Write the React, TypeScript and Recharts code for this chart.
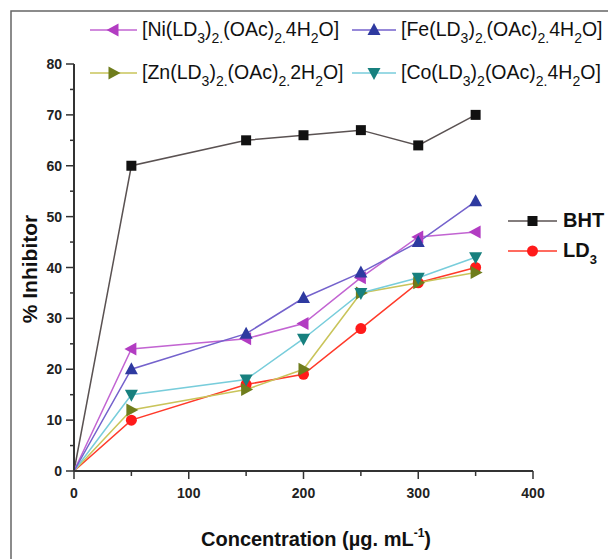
import React from 'react';
import { LineChart, Line, XAxis, YAxis } from 'recharts';

const concentrations = [0, 50, 150, 200, 250, 300, 350];
const bht = [0, 60, 65, 66, 67, 64, 70];
const ld3 = [0, 10, 17, 19, 28, 37, 40];
const niComplex = [0, 24, 26, 29, 38, 46, 47];
const feComplex = [0, 20, 27, 34, 39, 45, 53];
const znComplex = [0, 12, 16, 20, 35, 37, 39];
const coComplex = [0, 15, 18, 26, 35, 38, 42];

const xTicks = [0, 50, 100, 150, 200, 250, 300, 350, 400];
const yTicks = [0, 5, 10, 15, 20, 25, 30, 35, 40, 45, 50, 55, 60, 65, 70, 75, 80];

// legend label segments: [text, isSubscript]
const niLabel: [string, boolean][] = [['[Ni(LD', false], ['3', true], [')', false], ['2.', true], ['(OAc)', false], ['2.', true], ['4H', false], ['2', true], ['O]', false]];
const feLabel: [string, boolean][] = [['[Fe(LD', false], ['3', true], [')', false], ['2.', true], ['(OAc)', false], ['2.', true], ['4H', false], ['2', true], ['O]', false]];
const znLabel: [string, boolean][] = [['[Zn(LD', false], ['3', true], [')', false], ['2.', true], ['(OAc)', false], ['2.', true], ['2H', false], ['2', true], ['O]', false]];
const coLabel: [string, boolean][] = [['[Co(LD', false], ['3', true], [')', false], ['2', true], ['(OAc)', false], ['2.', true], ['4H', false], ['2', true], ['O]', false]];
const bhtLabel: [string, boolean][] = [['BHT', false]];
const ld3Label: [string, boolean][] = [['LD', false], ['3', true]];

const data = concentrations.map((c, i) => ({
  conc: c,
  bht: bht[i],
  ld3: ld3[i],
  ni: niComplex[i],
  fe: feComplex[i],
  zn: znComplex[i],
  co: coComplex[i],
}));

const FONT = 'Liberation Sans, Arial, Helvetica, sans-serif';

type ShapeKind = 'square' | 'circle' | 'up' | 'down' | 'left' | 'right';

function markerPath(kind: ShapeKind, cx: number, cy: number): string {
  switch (kind) {
    case 'square':
      return `M${cx - 5},${cy - 5}h10v10h-10Z`;
    case 'up':
      return `M${cx},${cy - 7}L${cx + 6.5},${cy + 5}L${cx - 6.5},${cy + 5}Z`;
    case 'down':
      return `M${cx},${cy + 7}L${cx + 6.5},${cy - 5}L${cx - 6.5},${cy - 5}Z`;
    case 'left':
      return `M${cx - 7},${cy}L${cx + 5},${cy - 6.5}L${cx + 5},${cy + 6.5}Z`;
    case 'right':
      return `M${cx + 7},${cy}L${cx - 5},${cy - 6.5}L${cx - 5},${cy + 6.5}Z`;
    default:
      return '';
  }
}

function Marker({ kind, cx, cy, color }: { kind: ShapeKind; cx: number; cy: number; color: string }) {
  if (kind === 'circle') return <circle cx={cx} cy={cy} r={5.5} fill={color} />;
  return <path d={markerPath(kind, cx, cy)} fill={color} />;
}

function makeDot(kind: ShapeKind, color: string) {
  return (p: any) => {
    const key = `${kind}-${p.index}`;
    if (p.payload && p.payload.conc === 0) return <g key={key} />;
    return (
      <g key={key}>
        <Marker kind={kind} cx={p.cx} cy={p.cy} color={color} />
      </g>
    );
  };
}

const XTick = (p: any) => {
  const v = p.payload.value;
  const major = v % 100 === 0;
  return (
    <g>
      <line x1={p.x} x2={p.x} y1={p.y} y2={p.y + (major ? 8 : 5)} stroke="#333" strokeWidth={1.5} />
      {major && (
        <text x={p.x} y={p.y + 27} textAnchor="middle" fontFamily={FONT} fontWeight="bold" fontSize={14} fill="#222">
          {v}
        </text>
      )}
    </g>
  );
};

const YTick = (p: any) => {
  const v = p.payload.value;
  const major = v % 10 === 0;
  return (
    <g>
      <line x1={p.x - (major ? 8 : 4)} x2={p.x} y1={p.y} y2={p.y} stroke="#333" strokeWidth={1.5} />
      {major && (
        <text x={p.x - 12} y={p.y + 5} textAnchor="end" fontFamily={FONT} fontWeight="bold" fontSize={14} fill="#222">
          {v}
        </text>
      )}
    </g>
  );
};

function RichText({ x, y, parts, size, subSize, weight }: { x: number; y: number; parts: [string, boolean][]; size: number; subSize: number; weight?: string }) {
  let shifted = false;
  const shift = 7;
  return (
    <text x={x} y={y} fontFamily={FONT} fontSize={size} fontWeight={weight || 'normal'} fill="#111">
      {parts.map(([t, sub], i) => {
        let dy = 0;
        if (sub && !shifted) { dy = shift; shifted = true; }
        else if (!sub && shifted) { dy = -shift; shifted = false; }
        return (
          <tspan key={i} dy={dy} fontSize={sub ? subSize : size}>
            {t}
          </tspan>
        );
      })}
    </text>
  );
}

function LegendItem({ x1, x2, y, kind, lineColor, markerColor, parts, textX, size, subSize, weight }: any) {
  return (
    <g>
      <line x1={x1} x2={x2} y1={y} y2={y} stroke={lineColor} strokeWidth={1.5} />
      <Marker kind={kind} cx={(x1 + x2) / 2} cy={y} color={markerColor} />
      <RichText x={textX} y={y + 6} parts={parts} size={size} subSize={subSize} weight={weight} />
    </g>
  );
}

const series = [
  { key: 'bht', line: '#5a5252', marker: '#111111', kind: 'square' as ShapeKind },
  { key: 'ld3', line: '#ff3a2a', marker: '#ff1a1a', kind: 'circle' as ShapeKind },
  { key: 'zn', line: '#c9c45a', marker: '#6f7d1c', kind: 'right' as ShapeKind },
  { key: 'co', line: '#78cddb', marker: '#17807e', kind: 'down' as ShapeKind },
  { key: 'ni', line: '#c264d2', marker: '#b23cc2', kind: 'left' as ShapeKind },
  { key: 'fe', line: '#7462cc', marker: '#2e3aa0', kind: 'up' as ShapeKind },
];

export default function App() {
  const col = (k: string) => series.find((s) => s.key === k)!;
  return (
    <div style={{ position: 'absolute', left: 0, top: 0, width: 608, height: 559, background: '#fff' }}>
      <LineChart width={608} height={559} data={data} margin={{ top: 64, right: 75, bottom: 0, left: 0 }}>
        <XAxis
          dataKey="conc"
          type="number"
          domain={[0, 400]}
          ticks={xTicks}
          interval={0}
          height={88}
          tickSize={0}
          tickMargin={0}
          tickLine={false}
          axisLine={{ stroke: '#333', strokeWidth: 2 }}
          tick={<XTick />}
        />
        <YAxis
          type="number"
          domain={[0, 80]}
          ticks={yTicks}
          interval={0}
          width={74}
          tickSize={0}
          tickMargin={0}
          tickLine={false}
          axisLine={{ stroke: '#333', strokeWidth: 2 }}
          tick={<YTick />}
        />
        {series.map((s) => (
          <Line
            key={s.key}
            dataKey={s.key}
            type="linear"
            stroke={s.line}
            strokeWidth={1.5}
            dot={makeDot(s.kind, s.marker)}
            activeDot={false}
            isAnimationActive={false}
          />
        ))}
      </LineChart>
      <svg width={608} height={559} style={{ position: 'absolute', left: 0, top: 0, pointerEvents: 'none' }}>
        <rect x={11} y={11} width={700} height={700} fill="none" stroke="#666" strokeWidth={1.5} />
        <LegendItem x1={90} x2={137} y={30} kind="left" lineColor={col('ni').line} markerColor={col('ni').marker} parts={niLabel} textX={142} size={19.5} subSize={14} />
        <LegendItem x1={352} x2={396} y={30} kind="up" lineColor={col('fe').line} markerColor={col('fe').marker} parts={feLabel} textX={401} size={19.5} subSize={14} />
        <LegendItem x1={90} x2={137} y={73} kind="right" lineColor={col('zn').line} markerColor={col('zn').marker} parts={znLabel} textX={142} size={19.5} subSize={14} />
        <LegendItem x1={352} x2={396} y={73} kind="down" lineColor={col('co').line} markerColor={col('co').marker} parts={coLabel} textX={401} size={19.5} subSize={14} />
        <LegendItem x1={508} x2={557} y={221} kind="square" lineColor={col('bht').line} markerColor={col('bht').marker} parts={bhtLabel} textX={563} size={20} subSize={13} weight="bold" />
        <LegendItem x1={508} x2={557} y={251} kind="circle" lineColor={col('ld3').line} markerColor={col('ld3').marker} parts={ld3Label} textX={563} size={20} subSize={13} weight="bold" />
        <text x={316} y={546} textAnchor="middle" fontFamily={FONT} fontWeight="bold" fontSize={20} fill="#111">
          Concentration (µg. mL<tspan dy={-9} fontSize={12}>-1</tspan><tspan dy={9}>)</tspan>
        </text>
        <text transform="translate(37,269) rotate(-90)" textAnchor="middle" fontFamily={FONT} fontWeight="bold" fontSize={21} fill="#111">
          % Inhibitor
        </text>
      </svg>
    </div>
  );
}
